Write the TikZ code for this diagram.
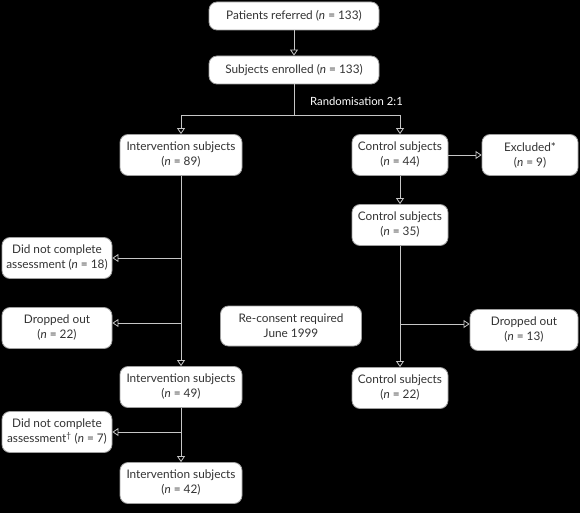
\documentclass[tikz,border=0pt]{standalone}
\usepackage{fontspec}
\setmainfont{Lato}
\usetikzlibrary{arrows.meta}
\begin{document}
\begin{tikzpicture}[x=1pt,y=-1pt,
  box/.style={draw=gray!75, fill=white, rounded corners=8pt, line width=0.8pt, align=center,
    font=\fontsize{11.8}{15}\selectfont, text=black!80, inner sep=0pt},
  conn/.style={draw=gray!45, line width=0.8pt},
  arr/.style={conn, -{Triangle[open, length=6pt, width=8pt]}},
  lbl/.style={font=\fontsize{11.3}{13}\selectfont, text=white, inner sep=0pt}]
\fill[black] (0,0) rectangle (580,513);
\useasboundingbox (0,0) rectangle (580,513);
% top
\node[box, minimum width=170pt, minimum height=28pt] (ref) at (294,16) {Patients referred (\textit{n} = 133)};
\node[box, minimum width=170pt, minimum height=28pt] (enr) at (294,70) {Subjects enrolled (\textit{n} = 133)};
% intervention column
\node[box, minimum width=122pt, minimum height=41pt] (int89) at (181,155) {Intervention subjects\\(\textit{n} = 89)};
\node[box, minimum width=122pt, minimum height=41pt] (int49) at (181,387) {Intervention subjects\\(\textit{n} = 49)};
\node[box, minimum width=122pt, minimum height=41pt] (int42) at (181,483) {Intervention subjects\\(\textit{n} = 42)};
% control column
\node[box, minimum width=96pt, minimum height=41pt] (con44) at (400,155) {Control subjects\\(\textit{n} = 44)};
\node[box, minimum width=96pt, minimum height=41pt] (con35) at (400,225) {Control subjects\\(\textit{n} = 35)};
\node[box, minimum width=96pt, minimum height=41pt] (con22) at (400,388) {Control subjects\\(\textit{n} = 22)};
\node[box, minimum width=96pt, minimum height=41pt] (excl) at (530,155) {Excluded*\\(\textit{n} = 9)};
\node[box, minimum width=108pt, minimum height=41pt] (drop13) at (524,330) {Dropped out\\(\textit{n} = 13)};
% left column
\node[box, minimum width=110pt, minimum height=41pt] (did18) at (57,258) {Did not complete\\assessment (\textit{n} = 18)};
\node[box, minimum width=110pt, minimum height=41pt] (drop22) at (57,328) {Dropped out\\(\textit{n} = 22)};
\node[box, minimum width=110pt, minimum height=41pt] (did7) at (57,432) {Did not complete\\assessment\textsuperscript{\dag} (\textit{n} = 7)};
% middle note
\node[box, minimum width=141pt, minimum height=40pt] (recon) at (291,326) {Re-consent required\\June 1999};
% connectors
\draw[arr] (ref) -- (enr);
\coordinate (rsplit) at (294,115);
\coordinate (rl) at (181,115);
\coordinate (rr) at (400,115);
\draw[conn] (enr) -- (rsplit);
\draw[conn] (rl) -- (rr);
\draw[arr] (rl) -- (int89);
\draw[arr] (rr) -- (con44);
\node[lbl, anchor=west] (rand) at (310,101) {Randomisation 2:1};
\draw[arr] (int89) -- (int49);
\draw[arr] (int89 |- did18) -- (did18);
\coordinate (d22) at (181,323);
\draw[arr] (d22) -- (d22 -| drop22.east);
\draw[arr] (int49) -- (int42);
\draw[arr] (int49 |- did7) -- (did7);
\draw[arr] (con44) -- (excl);
\draw[arr] (con44) -- (con35);
\draw[arr] (con35) -- (con22);
\coordinate (c13) at (400,324);
\draw[arr] (c13) -- (c13 -| drop13.west);
\end{tikzpicture}
\end{document}
